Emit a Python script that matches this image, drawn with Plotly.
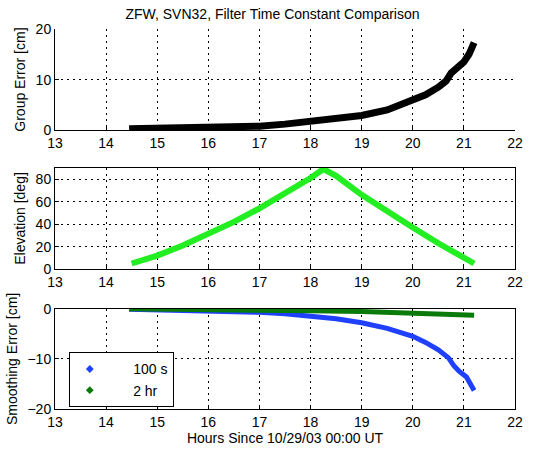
import plotly.graph_objects as go

# Group error [cm]
ge_x = [14.45, 14.8, 14.9, 15.5, 16.0, 16.5, 17.0, 17.5, 18.0, 18.5, 19.0, 19.5, 20.0, 20.25, 20.5, 20.65, 20.75, 20.85, 21.0, 21.1, 21.2]
ge_y = [0.3, 0.35, 0.35, 0.45, 0.55, 0.65, 0.8, 1.2, 1.7, 2.2, 2.9, 4.0, 5.8, 7.0, 8.5, 9.7, 11.3, 12.3, 13.5, 15.0, 17.3]

# Elevation [deg]
el_x = [14.5, 15.0, 15.5, 16.0, 16.5, 17.0, 17.5, 18.0, 18.25, 18.5, 19.0, 19.5, 20.0, 20.5, 21.0, 21.2]
el_y = [5, 12, 21, 31, 42, 54, 67, 81, 89, 83, 66, 51, 37, 23, 11, 5]

# Smoothing error [cm]
s100_x = [14.45, 15.0, 16.0, 17.0, 17.5, 18.0, 18.5, 19.0, 19.5, 20.0, 20.25, 20.5, 20.7, 20.8, 20.9, 21.05, 21.2]
s100_y = [-0.1, -0.2, -0.4, -0.7, -1.0, -1.5, -2.0, -2.8, -3.9, -5.5, -6.7, -8.2, -9.8, -11.3, -12.4, -13.6, -16.3]
s2h_x = [14.45, 15.0, 16.0, 17.0, 18.0, 19.0, 20.0, 20.5, 21.0, 21.2]
s2h_y = [0.0, -0.1, -0.2, -0.3, -0.4, -0.55, -0.8, -1.1, -1.3, -1.3]

x_ticks = [13, 14, 15, 16, 17, 18, 19, 20, 21, 22]

FONT = "Liberation Sans, Arial, sans-serif"
BLACK = "#000000"
GREEN_EL = "#22ee22"
BLUE = "#2040ff"
GREEN_DK = "#0a7a0a"
GRIDDASH = "2px,4px"
FS = 14

fig = go.Figure()
fig.add_trace(go.Scatter(x=ge_x, y=ge_y, mode="lines", line=dict(color=BLACK, width=7),
                         showlegend=False, xaxis="x", yaxis="y"))
fig.add_trace(go.Scatter(x=el_x, y=el_y, mode="lines", line=dict(color=GREEN_EL, width=6),
                         showlegend=False, xaxis="x2", yaxis="y2"))
fig.add_trace(go.Scatter(x=s100_x, y=s100_y, mode="lines", line=dict(color=BLUE, width=5),
                         showlegend=False, xaxis="x3", yaxis="y3"))
fig.add_trace(go.Scatter(x=s2h_x, y=s2h_y, mode="lines", line=dict(color=GREEN_DK, width=5),
                         showlegend=False, xaxis="x3", yaxis="y3"))
# legend entries
fig.add_trace(go.Scatter(x=[None], y=[None], mode="markers", name="      100 s",
                         marker=dict(color=BLUE, symbol="diamond", size=6),
                         xaxis="x3", yaxis="y3"))
fig.add_trace(go.Scatter(x=[None], y=[None], mode="markers", name="      2 hr",
                         marker=dict(color=GREEN_DK, symbol="diamond", size=6),
                         xaxis="x3", yaxis="y3"))

common_x = dict(range=[13, 22], tickvals=x_ticks, ticks="inside", ticklen=4, tickcolor=BLACK,
                showgrid=True, gridcolor=BLACK, griddash=GRIDDASH, gridwidth=1,
                linecolor=BLACK, linewidth=1, zeroline=False,
                tickfont=dict(size=FS, color=BLACK, family=FONT))
common_y = dict(ticks="inside", ticklen=4, tickcolor=BLACK,
                showgrid=True, gridcolor=BLACK, griddash=GRIDDASH, gridwidth=1,
                linecolor=BLACK, linewidth=1, zeroline=False,
                tickfont=dict(size=FS, color=BLACK, family=FONT),
                title=dict(font=dict(size=FS, color=BLACK, family=FONT), standoff=6))

fig.update_layout(
    width=545, height=453,
    margin=dict(l=54, r=30, t=29, b=41),
    paper_bgcolor="white", plot_bgcolor="white",
    font=dict(family=FONT, size=FS, color=BLACK),
    title=dict(text="ZFW, SVN32, Filter Time Constant Comparison", x=0.5, xanchor="center",
               y=1 - 9 / 453, yanchor="top", font=dict(size=FS, color=BLACK, family=FONT)),
    xaxis=dict(**common_x, domain=[0, 1], anchor="y", mirror=False),
    yaxis=dict(**common_y, domain=[0.7337, 1], anchor="x", range=[0, 20], tickvals=[0, 10, 20],
               title_text="Group Error [cm]", mirror=False),
    xaxis2=dict(**common_x, domain=[0, 1], anchor="y2", mirror=True),
    yaxis2=dict(**common_y, domain=[0.3681, 0.6345], anchor="x2", range=[0, 90],
                tickvals=[0, 20, 40, 60, 80], title_text="Elevation [deg]", mirror=True),
    xaxis3=dict(**common_x, domain=[0, 1], anchor="y3", mirror=True,
                title=dict(text="Hours Since 10/29/03 00:00 UT", standoff=1,
                           font=dict(size=FS, color=BLACK, family=FONT))),
    yaxis3=dict(**common_y, domain=[0, 0.2637], anchor="x3", range=[-20, 0],
                tickvals=[-20, -10, 0], title_text="Smoothing Error [cm]", mirror=True),
    legend=dict(x=0.030, y=0.149, xanchor="left", yanchor="top",
                bordercolor=BLACK, borderwidth=1, bgcolor="white",
                font=dict(size=FS, color=BLACK, family=FONT), itemwidth=30),
)

fig.write_html("out.html")
